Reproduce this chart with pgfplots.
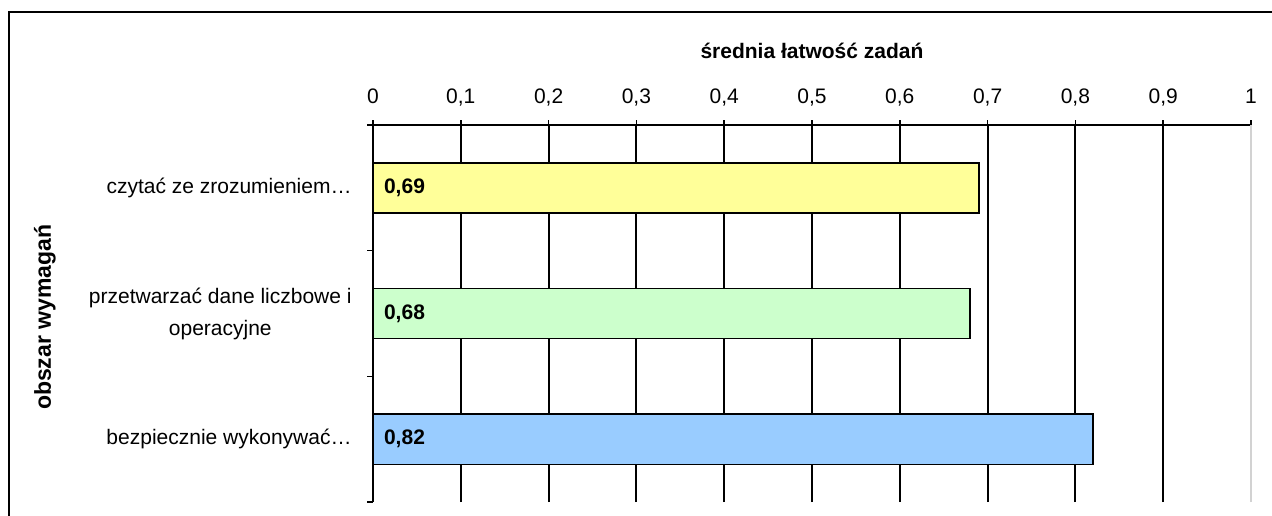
\documentclass[border=0pt]{standalone}
\usepackage{fontspec}
\setmainfont{Liberation Sans}
\usepackage{pgfplots}
\pgfplotsset{compat=1.18}
\definecolor{barY}{HTML}{FFFF99}
\definecolor{barG}{HTML}{CCFFCC}
\definecolor{barB}{HTML}{99CCFF}
\begin{document}
\begin{tikzpicture}[x=1pt,y=1pt]
\path[use as bounding box] (0,0) rectangle (636,-257.5);
\draw[line width=1pt] (4.5,-260) -- (4.5,-6) -- (640,-6);
\begin{axis}[
    at={(186.5pt,-62.5pt)}, anchor=north west,
    scale only axis, width=439pt, height=188.5pt,
    xmin=0, xmax=1, ymin=-0.5, ymax=2.5,
    axis x line*=top, axis y line*=left,
    axis line style={line width=1pt},
    xtick={0,0.1,0.2,0.3,0.4,0.5,0.6,0.7,0.8,0.9},
    extra x ticks={1},
    extra x tick style={grid style={gray!35, line width=1pt}},
    xmajorgrids, grid style={black, line width=1pt},
    tick align=outside, major tick length=2.5pt,
    every tick/.style={black, line width=0.8pt},
    ytick={0,1,2},
    yticklabels={bezpiecznie wykonywać…, {przetwarzać dane liczbowe i\\operacyjne}, czytać ze zrozumieniem…},
    major y tick style={draw=none},
    minor ytick={-0.5,0.5,1.5,2.5}, minor tick length=3pt,
    /pgf/number format/assume math mode=true,
    /pgf/number format/use comma,
    xticklabel style={font=\fontsize{10.5}{12}\selectfont, anchor=base, yshift=8.5pt},
    yticklabel style={font=\fontsize{10.5}{16}\selectfont, align=center, anchor=east, inner xsep=0pt, xshift=-8pt},
    xlabel={\textbf{średnia łatwość zadań}},
    xlabel style={at={(axis description cs:0.5,1)}, anchor=base, yshift=33.5pt, font=\fontsize{10.5}{12}\selectfont},
    ylabel={\textbf{obszar wymagań}},
    ylabel style={at={(axis description cs:-0.3736,0.49)}, anchor=center, font=\fontsize{11.5}{13}\selectfont},
]
\addplot[xbar, bar width=0.4, bar shift=0pt, fill=barY, draw=black, line width=0.8pt] coordinates {(0.69,2)};
\addplot[xbar, bar width=0.4, bar shift=0pt, fill=barG, draw=black, line width=0.8pt] coordinates {(0.68,1)};
\addplot[xbar, bar width=0.4, bar shift=0pt, fill=barB, draw=black, line width=0.8pt] coordinates {(0.82,0)};
\addplot[draw=none, mark=none, point meta=explicit,
    /pgf/number format/.cd, fixed, fixed zerofill, precision=2, use comma, /pgfplots/.cd,
    nodes near coords={\textbf{\pgfmathprintnumber{\pgfplotspointmeta}}},
    nodes near coords style={anchor=west, xshift=2pt, font=\fontsize{10.5}{12}\selectfont}]
    coordinates {(0,2) [0.69] (0,1) [0.68] (0,0) [0.82]};
\end{axis}
\end{tikzpicture}
\end{document}
